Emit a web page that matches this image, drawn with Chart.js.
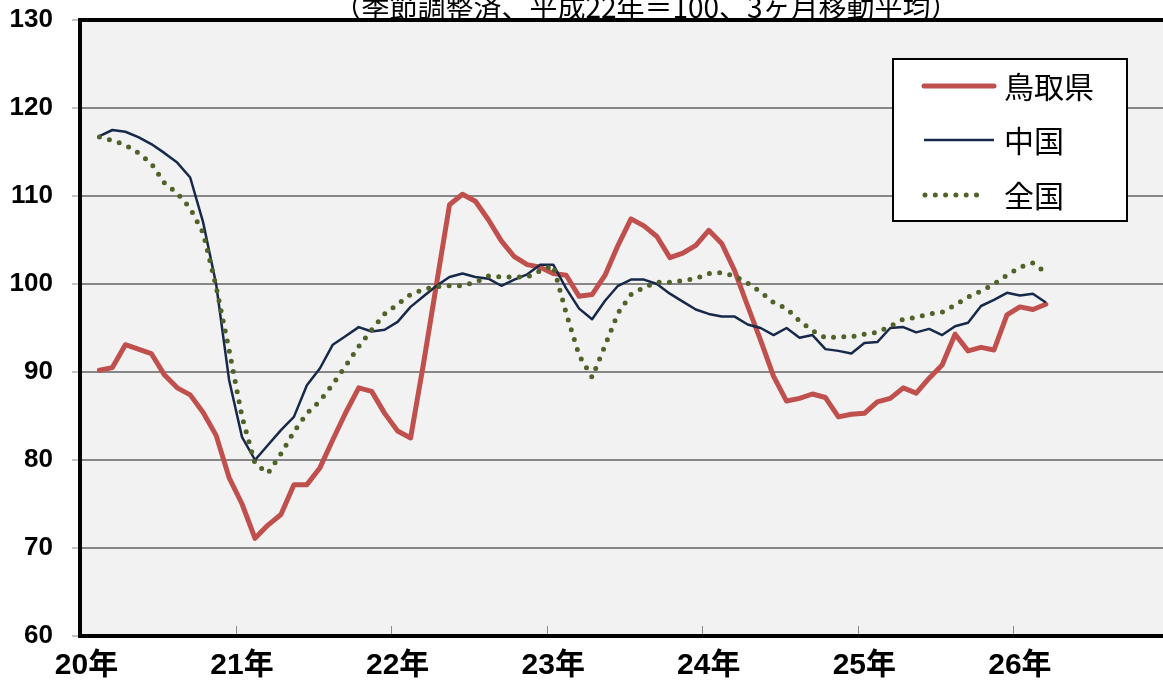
<!DOCTYPE html>
<html lang="ja">
<head>
<meta charset="utf-8">
<script src="https://cdn.jsdelivr.net/npm/chart.js@4.4.1/dist/chart.umd.min.js"></script>
<style>
  html, body { margin: 0; padding: 0; background: #ffffff; overflow: hidden; }
  #wrap { position: relative; width: 1163px; height: 687px; overflow: hidden; }
  canvas { display: block; }
</style>
</head>
<body>
<div id="wrap"><canvas id="c" width="1172" height="687"></canvas></div>
<script>
// ---- categories (months, 平成20年1月 .. 平成26年12月) ----
const months = [
  '20/01','20/02','20/03','20/04','20/05','20/06','20/07','20/08','20/09','20/10','20/11','20/12',
  '21/01','21/02','21/03','21/04','21/05','21/06','21/07','21/08','21/09','21/10','21/11','21/12',
  '22/01','22/02','22/03','22/04','22/05','22/06','22/07','22/08','22/09','22/10','22/11','22/12',
  '23/01','23/02','23/03','23/04','23/05','23/06','23/07','23/08','23/09','23/10','23/11','23/12',
  '24/01','24/02','24/03','24/04','24/05','24/06','24/07','24/08','24/09','24/10','24/11','24/12',
  '25/01','25/02','25/03','25/04','25/05','25/06','25/07','25/08','25/09','25/10','25/11','25/12',
  '26/01','26/02','26/03','26/04','26/05','26/06','26/07','26/08','26/09','26/10','26/11','26/12'
];
// tick labels
const yearLabels = ['20年','21年','22年','23年','24年','25年','26年'];
const titleText = '（季節調整済、平成22年＝100、3ヶ月移動平均）';
const seriesNames = ['鳥取県', '中国', '全国'];
// data runs from 20/02 to 26/03
const firstMonth = '20/02';

// ---- series values ----
const tottori = [
  90.2, 90.5, 93.1, 92.6, 92.1, 89.7, 88.2, 87.4, 85.4, 82.8, 78.0,
  75.0, 71.1, 72.6, 73.8, 77.2, 77.2, 79.1, 82.3, 85.4, 88.2, 87.8, 85.3,
  83.3, 82.5, 91.0, 100.0, 109.0, 110.2, 109.4, 107.3, 104.9, 103.1, 102.2, 101.9,
  101.2, 101.0, 98.6, 98.8, 101.0, 104.4, 107.4, 106.6, 105.4, 103.0, 103.5, 104.4,
  106.1, 104.6, 101.5, 97.5, 93.6, 89.5, 86.7, 87.0, 87.5, 87.1, 84.9, 85.2,
  85.3, 86.6, 87.0, 88.2, 87.6, 89.3, 90.8, 94.3, 92.4, 92.8, 92.5, 96.5,
  97.4, 97.1, 97.7
];
const chugoku = [
  116.8, 117.5, 117.3, 116.7, 115.9, 114.9, 113.8, 112.1, 107.0, 100.0, 89.1,
  82.6, 80.0, 81.7, 83.4, 84.9, 88.5, 90.4, 93.1, 94.1, 95.1, 94.6, 94.8,
  95.7, 97.4, 98.6, 99.8, 100.8, 101.2, 100.8, 100.6, 99.8, 100.5, 101.1, 102.2,
  102.2, 99.5, 97.2, 96.0, 98.1, 99.8, 100.5, 100.5, 100.0, 98.9, 98.0, 97.1,
  96.6, 96.3, 96.3, 95.4, 95.0, 94.2, 95.0, 93.9, 94.2, 92.6, 92.4, 92.1,
  93.3, 93.4, 95.0, 95.1, 94.5, 94.9, 94.2, 95.2, 95.6, 97.5, 98.2, 99.0,
  98.7, 98.9, 97.9
];
const zenkoku = [
  116.7, 116.3, 115.8, 114.9, 113.7, 111.5, 110.3, 108.6, 105.8, 99.7, 92.5,
  84.9, 79.6, 78.5, 80.7, 83.2, 85.3, 86.7, 88.6, 90.7, 92.9, 94.8, 96.6,
  97.7, 98.8, 99.4, 99.7, 99.8, 99.8, 100.2, 100.9, 100.8, 100.8, 100.8, 101.5,
  102.1, 96.7, 91.9, 89.4, 93.0, 96.7, 98.8, 99.6, 100.2, 100.2, 100.4, 100.6,
  101.2, 101.3, 100.9, 100.1, 99.1, 97.9, 97.2, 95.8, 94.7, 93.9, 94.0, 94.0,
  94.3, 94.5, 95.2, 96.0, 96.2, 96.6, 96.8, 97.6, 98.5, 99.2, 100.0, 101.0,
  101.9, 102.4, 101.3
];

const start = months.indexOf(firstMonth);
function pts(vals) { return vals.map((v, i) => ({ x: months[start + i], y: v })); }

const frame = {
  id: 'frame',
  beforeDraw(chart) {
    const { ctx, chartArea: a } = chart;
    ctx.save();
    ctx.fillStyle = '#f2f2f2';
    ctx.fillRect(a.left, a.top, a.right - a.left, a.bottom - a.top);
    ctx.restore();
  },
  afterDraw(chart) {
    const { ctx, chartArea: a } = chart;
    const xs = chart.scales.x;
    ctx.save();
    // top border
    ctx.strokeStyle = '#000';
    ctx.lineWidth = 4;
    ctx.beginPath();
    ctx.moveTo(a.left - 2, a.top);
    ctx.lineTo(a.right + 2, a.top);
    ctx.stroke();
    // inside year ticks on x axis
    const band = xs.getPixelForValue(1) - xs.getPixelForValue(0);
    ctx.strokeStyle = '#8a8a8a';
    ctx.lineWidth = 1;
    for (let k = 1; k < yearLabels.length; k++) {
      const x = Math.round(xs.getPixelForValue(k * 12) - band / 2) + 0.5;
      ctx.beginPath();
      ctx.moveTo(x, a.bottom - 2);
      ctx.lineTo(x, a.bottom - 10);
      ctx.stroke();
    }
    // title (clipped at top, as in the original)
    ctx.fillStyle = '#000';
    ctx.font = "28px 'Noto Sans CJK JP'";
    ctx.textAlign = 'center';
    ctx.textBaseline = 'middle';
    ctx.fillText(titleText, 646, 7);
    // legend
    const lx = 893, ly = 59, lw = 234, lh = 162;
    ctx.fillStyle = '#ffffff';
    ctx.fillRect(lx, ly, lw, lh);
    ctx.strokeStyle = '#000';
    ctx.lineWidth = 2;
    ctx.strokeRect(lx, ly, lw, lh);
    const rows = [86, 140, 195];
    chart.data.datasets.forEach((ds, i) => {
      const y = rows[i];
      ctx.save();
      ctx.strokeStyle = ds.borderColor;
      ctx.lineWidth = ds.borderWidth;
      ctx.lineCap = ds.borderCapStyle || 'butt';
      if (ds.borderDash) ctx.setLineDash(ds.borderDash);
      ctx.beginPath();
      if (ds.borderDash && ds.borderDash.length) {
        ctx.moveTo(925, y); ctx.lineTo(986, y);
      } else {
        ctx.moveTo(924, y); ctx.lineTo(994, y);
      }
      ctx.stroke();
      ctx.restore();
      ctx.fillStyle = '#000';
      ctx.font = "30px 'Noto Sans CJK JP'";
      ctx.textAlign = 'left';
      ctx.textBaseline = 'middle';
      ctx.fillText(ds.label, 1004, y + 1);
    });
    ctx.restore();
  }
};

new Chart(document.getElementById('c'), {
  type: 'line',
  data: {
    labels: months,
    datasets: [
      { label: seriesNames[0], data: pts(tottori), borderColor: '#C0504D', borderWidth: 5,
        borderJoinStyle: 'round', borderCapStyle: 'round', pointRadius: 0, tension: 0, order: 3 },
      { label: seriesNames[1], data: pts(chugoku), borderColor: '#17294A', borderWidth: 2.5,
        borderJoinStyle: 'round', pointRadius: 0, tension: 0, order: 2 },
      { label: seriesNames[2], data: pts(zenkoku), borderColor: '#4F6228', borderWidth: 5,
        borderDash: [0, 10.3], borderCapStyle: 'round', pointRadius: 0, tension: 0, order: 1 }
    ]
  },
  options: {
    responsive: false,
    animation: false,
    layout: { padding: { top: 20, right: 3, left: 0, bottom: 0 } },
    plugins: { legend: { display: false }, tooltip: { enabled: false }, title: { display: false } },
    scales: {
      x: {
        type: 'category',
        offset: true,
        grid: { display: false, drawTicks: false },
        border: { display: true, color: '#000', width: 4 },
        ticks: {
          autoSkip: false, maxRotation: 0, minRotation: 0, padding: 12,
          color: '#000',
          font: { family: "'Liberation Sans', 'Noto Sans CJK JP'", size: 30, weight: 'bold' },
          callback: (v, i) => (i % 12 === 0 ? yearLabels[i / 12] : '')
        },
        afterFit: (s) => { s.height = 51; s.paddingLeft = 0; s.paddingRight = 0; }
      },
      y: {
        min: 60, max: 130,
        ticks: {
          stepSize: 10, padding: 19, color: '#000',
          font: { family: "'Liberation Sans'", size: 26, weight: 'bold' }
        },
        grid: { color: '#868686', lineWidth: 2, tickLength: 8, tickColor: '#8a8a8a', tickWidth: 1 },
        border: { display: true, color: '#000', width: 4 },
        afterFit: (s) => { s.width = 80; s.paddingTop = 0; s.paddingBottom = 0; }
      }
    }
  },
  plugins: [frame]
});
</script>
</body>
</html>
